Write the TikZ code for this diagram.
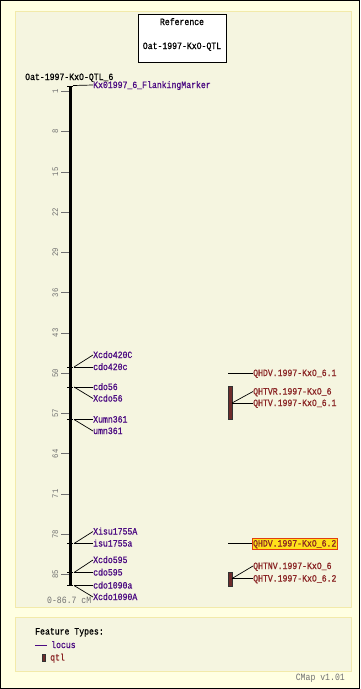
\documentclass[tikz,border=0pt]{standalone}
\usepackage{fontspec}
\newfontfamily\mono[FakeStretch=0.85,FakeBold=0.8]{Liberation Mono}
\newfontfamily\monolt[FakeStretch=0.85]{Liberation Mono}
\definecolor{outerbg}{HTML}{FFFFE2}
\definecolor{panelbg}{HTML}{F5F5E0}
\definecolor{panelln}{HTML}{F2EAAA}
\definecolor{loccol}{HTML}{4B0A82}
\definecolor{qtlcol}{HTML}{8A2424}
\definecolor{qtlfill}{HTML}{6E2C2C}
\definecolor{hlfill}{HTML}{FFE21A}
\definecolor{hlline}{HTML}{E04010}
\definecolor{scalecol}{HTML}{707070}
\begin{document}
\begin{tikzpicture}[x=1pt,y=-1pt,
  txt/.style={inner sep=0pt, text height=6pt, text depth=0pt, font=\mono\fontsize{9.6}{10}\selectfont},
  loclbl/.style={txt, anchor=west, text=loccol},
  qtllbl/.style={txt, anchor=west, text=qtlcol},
  scalelbl/.style={inner sep=0pt, text height=5pt, text depth=0pt, font=\monolt\fontsize{8.5}{9}\selectfont, text=scalecol, rotate=90},
  scaletick/.style={draw=scalecol, line width=0.8pt},
  conn/.style={draw=black, line width=0.7pt},
  axtick/.style={draw=black, line width=1pt},
  qtlbar/.style={fill=qtlfill, draw=black!80, line width=0.6pt},
  panel/.style={fill=panelbg, draw=panelln, line width=1pt}]
\useasboundingbox (0,0) rectangle (360,689);
\fill[outerbg] (0,0) rectangle (360,689);
\draw[black, line width=1pt] (0.5,0.5) rectangle (359.5,688.5);
% panels
\draw[panel] (15,11.5) rectangle (351.5,607.5);
\draw[panel] (15,617.5) rectangle (351.5,671.5);
% reference box
\node[draw=black, fill=white, line width=0.8pt, minimum width=88pt, minimum height=48pt, inner sep=0pt] (refbox) at (182,38) {};
\node[txt, text=black] (refa) at (182,22) {Reference};
\node[txt, text=black] (refb) at (182,46) {Oat-1997-KxO-QTL};
% map title
\node[txt, anchor=west, text=black] (maptitle) at (25,77) {Oat-1997-KxO-QTL\_6};
% axis
\coordinate (axtop) at (70,86);
\coordinate (axbot) at (70,585);
\draw[black, line width=3pt] (axtop) -- (axbot);
\draw[axtick] (67,86) -- (73,86);
\draw[axtick] (67,585) -- (73,585);
% scale
\foreach \v in {1,8,15,22,29,36,43,50,57,64,71,78,85}{
  \pgfmathsetmacro{\yy}{131.7+(\v-8)*5.75}
  \draw[scaletick] (61,\yy) -- (69,\yy);
  \node[scalelbl] (s\v) at (55.5,\yy) {\v};
}
\node[txt, anchor=west, text=scalecol, font=\monolt\fontsize{9.6}{10}\selectfont] (range) at (47,600) {0-86.7 cM};
% markers
\newcommand{\mtick}[1]{\draw[axtick] (67,#1) -- (73,#1);}
\node[loclbl] (m0) at (93,85) {Kx01997\_6\_FlankingMarker};
\draw[conn] (73,85.5) -- (m0.west);
% group A
\coordinate (ga) at (74,367); \mtick{367}
\node[loclbl] (ma1) at (93,355) {Xcdo420C};
\node[loclbl] (ma2) at (93,367) {cdo420c};
\draw[conn] (ga) -- (ma1.west); \draw[conn] (ga) -- (ma2.west);
% group B
\coordinate (gb) at (74,387); \mtick{387}
\node[loclbl] (mb1) at (93,387) {cdo56};
\node[loclbl] (mb2) at (93,398.5) {Xcdo56};
\draw[conn] (gb) -- (mb1.west); \draw[conn] (gb) -- (mb2.west);
% group C
\coordinate (gc) at (74,419.5); \mtick{419.5}
\node[loclbl] (mc1) at (93,419.5) {Xumn361};
\node[loclbl] (mc2) at (93,431) {umn361};
\draw[conn] (gc) -- (mc1.west); \draw[conn] (gc) -- (mc2.west);
% group D
\coordinate (gd) at (74,543.5); \mtick{543.5}
\node[loclbl] (md1) at (93,531.5) {Xisu1755A};
\node[loclbl] (md2) at (93,543.5) {isu1755a};
\draw[conn] (gd) -- (md1.west); \draw[conn] (gd) -- (md2.west);
% group E
\coordinate (ge) at (74,572.5); \mtick{572.5}
\node[loclbl] (me1) at (93,560) {Xcdo595};
\node[loclbl] (me2) at (93,572.5) {cdo595};
\draw[conn] (ge) -- (me1.west); \draw[conn] (ge) -- (me2.west);
% group F
\coordinate (gf) at (74,585.5);
\node[loclbl] (mf1) at (93,585.5) {cdo1090a};
\node[loclbl] (mf2) at (93,597) {Xcdo1090A};
\draw[conn] (gf) -- (mf1.west); \draw[conn] (gf) -- (mf2.west);
% QTLs
\coordinate (q1s) at (228,373);
\node[qtllbl] (q1) at (253,373) {QHDV.1997-KxO\_6.1};
\draw[conn] (q1s) -- (q1.west);
\draw[qtlbar] (228,386) rectangle (232,419);
\coordinate (b1) at (232,403);
\node[qtllbl] (q2) at (253,391.5) {QHTVR.1997-KxO\_6};
\node[qtllbl] (q3) at (253,403) {QHTV.1997-KxO\_6.1};
\draw[conn] (b1) -- (q2.west); \draw[conn] (b1) -- (q3.west);
\coordinate (q4s) at (228,543.5);
\node[qtllbl, fill=hlfill, draw=hlline, line width=0.6pt, inner xsep=0.8pt, inner ysep=2.5pt] (q4) at (252,543.5) {QHDV.1997-KxO\_6.2};
\draw[conn] (q4s) -- (q4.west);
\draw[qtlbar] (228,572) rectangle (232,586);
\coordinate (b2) at (232,578.5);
\node[qtllbl] (q5) at (253,566) {QHTNV.1997-KxO\_6};
\node[qtllbl] (q6) at (253,578.5) {QHTV.1997-KxO\_6.2};
\draw[conn] (b2) -- (q5.west); \draw[conn] (b2) -- (q6.west);
% legend
\node[txt, anchor=west, text=black] (legt) at (35,631.5) {Feature Types:};
\coordinate (lla) at (35,645); \coordinate (llb) at (47,645);
\draw[loccol, line width=0.9pt] (lla) -- (llb);
\node[loclbl] (leglocus) at (51,645) {locus};
\draw[qtlbar] (42.5,654) rectangle (45.5,661.5);
\node[qtllbl] (legqtl) at (50,657.5) {qtl};
\node[txt, anchor=east, text=scalecol, font=\monolt\fontsize{9.6}{10}\selectfont] (cmap) at (345,677) {CMap v1.01};
\end{tikzpicture}
\end{document}
